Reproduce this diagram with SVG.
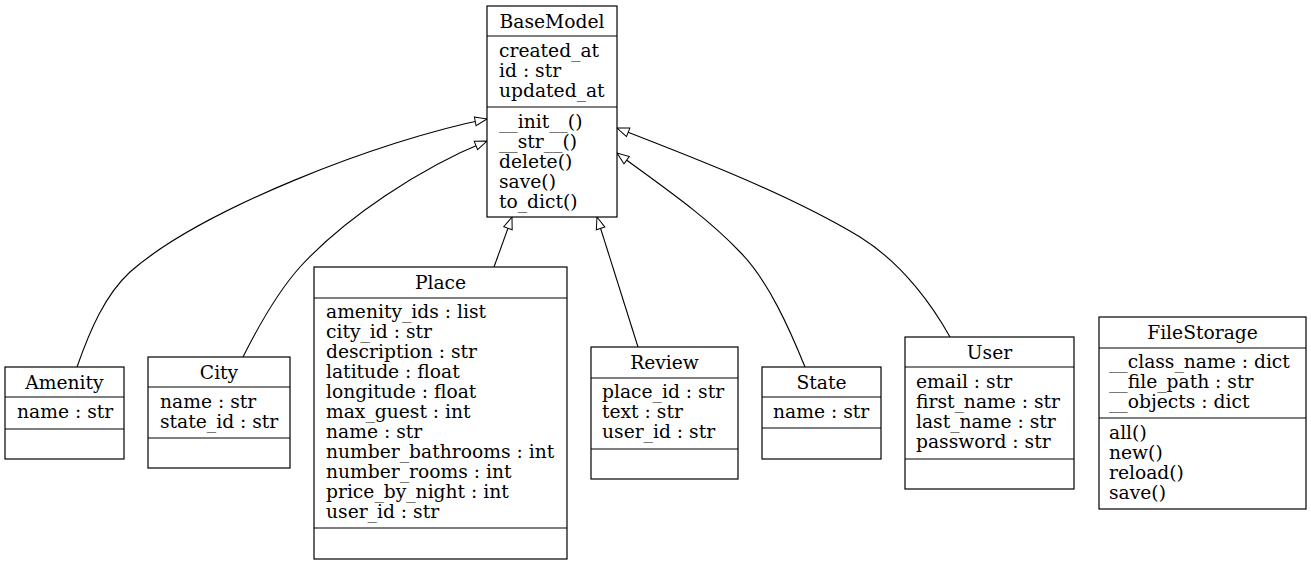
<svg xmlns="http://www.w3.org/2000/svg" width="1311" height="565" viewBox="0 0 1311 565">
<style>
.box{fill:#fff;stroke:#000;stroke-width:1.2}
.div{stroke:#000;stroke-width:1.2}
text{font-family:"DejaVu Serif","Liberation Serif",serif;font-size:18.7px;fill:#000}
.c{text-anchor:middle}
.edge{fill:none;stroke:#000;stroke-width:1.1}
</style>
<defs>
<marker id="tri" markerUnits="userSpaceOnUse" markerWidth="15" markerHeight="11" refX="13" refY="5.5" orient="auto">
<path d="M1,1 L13,5.5 L1,10 z" fill="#fff" stroke="#000" stroke-width="1"/>
</marker>
</defs>
<rect width="1311" height="565" fill="#fff"/>
<g id="connectors">
<path class="edge" marker-end="url(#tri)" d="M77,367 C90,330 105,295 130,272 C200,210 380,140 487,119"/>
<path class="edge" marker-end="url(#tri)" d="M243,357 C255,333 275,295 300,267 C345,218 420,168 487,141"/>
<path class="edge" marker-end="url(#tri)" d="M494,267 L512,217"/>
<path class="edge" marker-end="url(#tri)" d="M638,347 L597,217"/>
<path class="edge" marker-end="url(#tri)" d="M805,367 C790,330 768,280 740,252 C705,215 660,185 617,153"/>
<path class="edge" marker-end="url(#tri)" d="M950,337 C935,310 905,265 860,237 C790,195 700,160 617,128"/>
</g>
<g id="BaseModel">
<rect class="box" x="487" y="6" width="130" height="211"/>
<line class="div" x1="487" y1="36" x2="617" y2="36"/>
<line class="div" x1="487" y1="107" x2="617" y2="107"/>
<text class="c" x="552" y="28">BaseModel</text>
<text x="499" y="57">created_at</text>
<text x="499" y="77">id : str</text>
<text x="499" y="97">updated_at</text>
<text x="499" y="128">__init__()</text>
<text x="499" y="148">__str__()</text>
<text x="499" y="168">delete()</text>
<text x="499" y="188">save()</text>
<text x="499" y="208">to_dict()</text>
</g>
<g id="Amenity">
<rect class="box" x="5" y="367" width="119" height="92"/>
<line class="div" x1="5" y1="397" x2="124" y2="397"/>
<line class="div" x1="5" y1="429" x2="124" y2="429"/>
<text class="c" x="64.5" y="389">Amenity</text>
<text x="17" y="418">name : str</text>
</g>
<g id="City">
<rect class="box" x="148" y="357" width="142" height="111"/>
<line class="div" x1="148" y1="387" x2="290" y2="387"/>
<line class="div" x1="148" y1="438" x2="290" y2="438"/>
<text class="c" x="219" y="379">City</text>
<text x="160" y="408">name : str</text>
<text x="160" y="428">state_id : str</text>
</g>
<g id="Place">
<rect class="box" x="314" y="267" width="253" height="292"/>
<line class="div" x1="314" y1="298" x2="567" y2="298"/>
<line class="div" x1="314" y1="528" x2="567" y2="528"/>
<text class="c" x="440.5" y="289">Place</text>
<text x="326" y="318">amenity_ids : list</text>
<text x="326" y="338">city_id : str</text>
<text x="326" y="358">description : str</text>
<text x="326" y="378">latitude : float</text>
<text x="326" y="398">longitude : float</text>
<text x="326" y="418">max_guest : int</text>
<text x="326" y="438">name : str</text>
<text x="326" y="458">number_bathrooms : int</text>
<text x="326" y="478">number_rooms : int</text>
<text x="326" y="498">price_by_night : int</text>
<text x="326" y="518">user_id : str</text>
</g>
<g id="Review">
<rect class="box" x="591" y="347" width="147" height="132"/>
<line class="div" x1="591" y1="378" x2="738" y2="378"/>
<line class="div" x1="591" y1="449" x2="738" y2="449"/>
<text class="c" x="664.5" y="369">Review</text>
<text x="602" y="398">place_id : str</text>
<text x="602" y="418">text : str</text>
<text x="602" y="438">user_id : str</text>
</g>
<g id="State">
<rect class="box" x="762" y="367" width="119" height="92"/>
<line class="div" x1="762" y1="397" x2="881" y2="397"/>
<line class="div" x1="762" y1="428" x2="881" y2="428"/>
<text class="c" x="821.5" y="389">State</text>
<text x="773" y="418">name : str</text>
</g>
<g id="User">
<rect class="box" x="905" y="337" width="169" height="152"/>
<line class="div" x1="905" y1="367" x2="1074" y2="367"/>
<line class="div" x1="905" y1="459" x2="1074" y2="459"/>
<text class="c" x="989.5" y="359">User</text>
<text x="916" y="388">email : str</text>
<text x="916" y="408">first_name : str</text>
<text x="916" y="428">last_name : str</text>
<text x="916" y="448">password : str</text>
</g>
<g id="FileStorage">
<rect class="box" x="1099" y="317" width="207" height="192"/>
<line class="div" x1="1099" y1="348" x2="1306" y2="348"/>
<line class="div" x1="1099" y1="418" x2="1306" y2="418"/>
<text class="c" x="1202.5" y="339">FileStorage</text>
<text x="1109" y="368">__class_name : dict</text>
<text x="1109" y="388">__file_path : str</text>
<text x="1109" y="408">__objects : dict</text>
<text x="1109" y="439">all()</text>
<text x="1109" y="459">new()</text>
<text x="1109" y="479">reload()</text>
<text x="1109" y="499">save()</text>
</g>
</svg>
